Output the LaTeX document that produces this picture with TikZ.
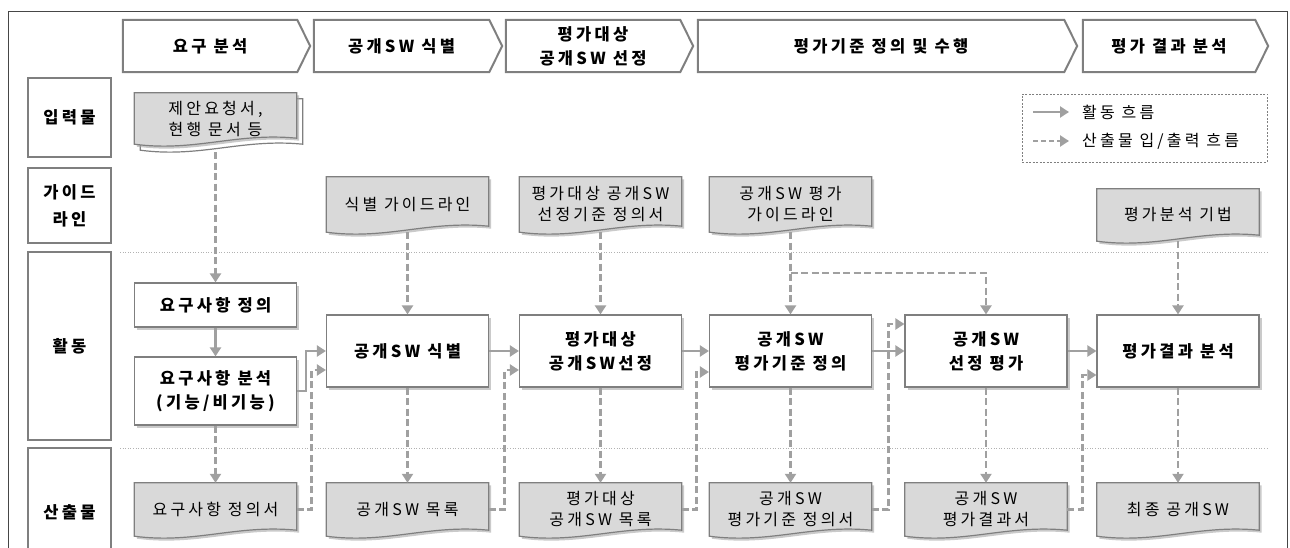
\documentclass[tikz,border=0pt]{standalone}
\usepackage{fontspec}
\setmainfont{Noto Sans CJK KR}[LetterSpace=20]
\usetikzlibrary{arrows.meta,shadows,backgrounds}

\definecolor{linegray}{RGB}{160,160,160}
\definecolor{edgegray}{RGB}{127,127,127}
\definecolor{docgray}{RGB}{217,217,217}
\definecolor{framegray}{RGB}{70,70,70}

\tikzset{
	phase/.style={minimum height=52pt,inner sep=0pt,align=center,font=\bfseries\fontsize{16.5}{24}\selectfont},
	phaseline/.style={draw=edgegray,line width=2pt},
	rowbox/.style={draw=edgegray,line width=2pt,minimum width=83pt,inner sep=0pt,align=center,font=\bfseries\fontsize{16.5}{27}\selectfont},
	actbox/.style={draw=edgegray,line width=1.2pt,fill=white,minimum width=162pt,minimum height=72pt,inner sep=0pt,align=center,font=\bfseries\fontsize{16.5}{24}\selectfont,drop shadow={shadow xshift=2.5pt,shadow yshift=-2.5pt,fill=black!35,opacity=0.6}},
	docbox/.style={minimum width=162pt,minimum height=53pt,inner sep=0pt,align=center},
	docline/.style={draw=edgegray,line width=1.2pt,fill=docgray,drop shadow={shadow xshift=2.5pt,shadow yshift=-2.5pt,fill=black!35,opacity=0.6}},
	sheetline/.style={draw=edgegray,line width=1.2pt,fill=white},
	io/.style={draw=linegray,line width=2.8pt,dash pattern=on 7pt off 3.5pt,-{Triangle[length=9pt,width=11pt]}},
	flow/.style={draw=linegray,line width=2.6pt,-{Triangle[length=9pt,width=11pt]}},
	sepline/.style={draw=gray!60,line width=0.6pt,dotted},
}

\begin{document}
\begin{tikzpicture}[x=1pt,y=-1pt,font=\fontsize{16}{21}\selectfont]
	\useasboundingbox (0,0) rectangle (1290,548);
	\draw[framegray,line width=0.8pt] (8,560) |- (1287,11) -- (1287,560);

	% phases
	\foreach [count=\n] \x/\w/\t in {210/174pt/{요구 분석},401.5/175pt/{공개SW 식별},593/174pt/{평가대상\\공개SW 선정},881/366pt/{평가기준 정의 및 수행},1169/172pt/{평가 결과 분석}}{
		\node[phase,minimum width=\w] (phase \n) at (\x,46) {\t};
		\draw[phaseline] (phase \n.north west) -- (phase \n.north east) -- ([xshift=13pt]phase \n.east) -- (phase \n.south east) -- (phase \n.south west) -- cycle;
	}

	% rows
	\node[rowbox,minimum height=79pt] (input) at (69.5,117.5) {입력물};
	\node[rowbox,minimum height=75pt] (guide) at (69.5,205.5) {가이드\\라인};
	\node[rowbox,minimum height=188pt] (activity) at (69.5,346) {활동};
	\node[rowbox,minimum height=128pt] (output) at (69.5,512) {산출물};

	\draw[sepline] (120,252) -- (1268,252);
	\draw[sepline] (120,448) -- (1268,448);

	% documents
	\node[docbox,minimum height=51pt] (in) at (215.5,118.5) {제안요청서,\\현행 문서 등};
	\node[docbox,minimum height=55pt] (guide 1) at (407.5,204.5) {식별 가이드라인};
	\node[docbox,minimum height=55pt] (guide 2) at (600.5,204.5) {평가대상 공개SW\\선정기준 정의서};
	\node[docbox,minimum height=55pt] (guide 3) at (790.5,204.5) {공개SW 평가\\가이드라인};
	\node[docbox,minimum height=52pt] (guide 4) at (1178,215) {평가분석 기법};
	\foreach [count=\n] \x/\t in {215.5/{요구사항 정의서},407.5/{공개SW 목록},600.5/{평가대상\\공개SW 목록},790.5/{공개SW\\평가기준 정의서},986/{공개SW\\평가결과서},1178/{최종 공개SW}}{
		\node[docbox] (out \n) at (\x,509.5) {\t};
	}

	\begin{scope}[on background layer]
		\draw[sheetline] ([shift={(6pt,-6pt)}]in.south west) -- ([shift={(6pt,-6pt)}]in.north west) -- ([shift={(6pt,-6pt)}]in.north east) -- ([shift={(6pt,0pt)}]in.south east) .. controls +(-60pt,6pt) and +(60pt,-8pt) .. ([shift={(6pt,-6pt)}]in.south west) -- cycle;
		\foreach \d in {in,guide 1,guide 2,guide 3,guide 4,out 1,out 2,out 3,out 4,out 5,out 6}{
			\draw[docline] (\d.south west) -- (\d.north west) -- (\d.north east) -- ([yshift=6pt]\d.south east) .. controls +(-60pt,6pt) and +(60pt,-8pt) .. (\d.south west) -- cycle;
		}
	\end{scope}

	% activities
	\node[actbox,minimum height=44pt] (act 1) at (215.5,305) {요구사항 정의};
	\node[actbox,minimum height=68pt] (act 2) at (215.5,391) {요구사항 분석\\(기능/비기능)};
	\node[actbox] (act 3) at (407.5,351) {공개SW 식별};
	\node[actbox] (act 4) at (600.5,351) {평가대상\\공개SW선정};
	\node[actbox] (act 5) at (790.5,351) {공개SW\\평가기준 정의};
	\node[actbox] (act 6) at (986,351) {공개SW\\선정 평가};
	\node[actbox] (act 7) at (1178,351) {평가결과 분석};

	% flows
	\draw[flow] (act 1) -- (act 2);
	\draw[flow] (act 2.east) -- ++(9,0) |- (act 3.west);
	\foreach \a/\b in {3/4,4/5,5/6,6/7}
		\draw[flow] (act \a) -- (act \b);

	% inputs and outputs
	\draw[io] ([yshift=-8pt]in.south) -- (act 1);
	\foreach \g/\a in {1/3,2/4,3/5,4/7}
		\draw[io] (guide \g) -- (act \a);
	\coordinate (split) at (790.5,273);
	\draw[io] (split) -| (act 6.north);
	\foreach \a/\o in {2/1,3/2,4/3,5/4,6/5,7/6}
		\draw[io] (act \a) -- (out \o);
	\draw[io] (out 1.east) -- ++(15,0) |- ([yshift=-19pt]act 3.west);
	\draw[io] (out 2.east) -- ++(16,0) |- ([yshift=-19pt]act 4.west);
	\draw[io] (out 3.east) -- ++(15,0) |- ([yshift=-21pt]act 5.west);
	\draw[io] (out 4.east) -- ++(17,0) |- ([yshift=27pt]act 6.west);
	\draw[io] (out 5.east) -- ++(15,0) |- ([yshift=-24pt]act 7.west);

	% legend
	\node[draw=edgegray,line width=0.7pt,dash pattern=on 2pt off 1.5pt,minimum width=245pt,minimum height=68pt] (legend) at (1144.5,128) {};
	\coordinate (flow from) at (1033,112);
	\coordinate (flow to) at (1069,112);
	\coordinate (io from) at (1033,141);
	\coordinate (io to) at (1069,141);
	\draw[flow,line width=2.2pt] (flow from) -- (flow to);
	\draw[io,line width=2.2pt,dash pattern=on 5pt off 3pt] (io from) -- (io to);
	\node[anchor=west,inner sep=0pt] (flow text) at (1082,112) {활동 흐름};
	\node[anchor=west,inner sep=0pt] (io text) at (1082,141) {산출물 입/출력 흐름};
\end{tikzpicture}
\end{document}
